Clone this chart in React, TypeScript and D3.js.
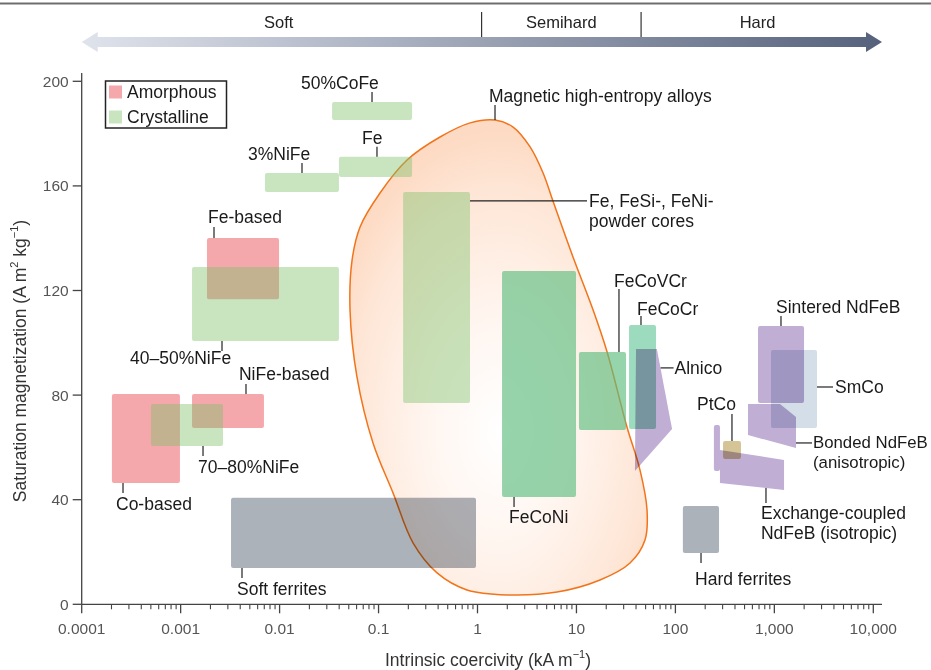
import React from "react";
import * as d3 from "d3";

const W = 931;
const H = 670;

// Axis ticks
const xTickValues = [1e-4, 1e-3, 1e-2, 1e-1, 1, 10, 100, 1000, 10000];
const xTickLabels = ["0.0001", "0.001", "0.01", "0.1", "1", "10", "100", "1,000", "10,000"];
const yTickValues = [0, 40, 80, 120, 160, 200];

// Rectangular ranges: coercivity (kA/m) and saturation magnetization (A m2/kg)
const rectNames = ["Fe-based", "Co-based", "NiFe-based", "50%CoFe", "Fe", "3%NiFe", "40–50%NiFe", "70–80%NiFe", "Powder cores", "Soft ferrites", "FeCoNi", "FeCoVCr", "FeCoCr", "Sintered NdFeB", "SmCo", "PtCo", "Hard ferrites", "Exchange-coupled strip"];
const rectGroup = ["amorphous", "amorphous", "amorphous", "crystalline", "crystalline", "crystalline", "crystalline", "crystalline", "crystalline", "ferrite", "hea", "hea", "hea2", "rare", "smco", "ptco", "ferrite", "rare"];
const rectHcMin = [0.001845, 0.000202, 0.001303, 0.0339, 0.0398, 0.00711, 0.001303, 0.000501, 0.177, 0.00323, 1.77, 10.6, 34, 684, 925, 303, 119, 245];
const rectHcMax = [0.00987, 0.000984, 0.00695, 0.218, 0.218, 0.0398, 0.0398, 0.00268, 0.84, 0.966, 9.9, 31.7, 63.7, 1995, 2698, 460, 276, 282];
const rectMsMin = [116.7, 46.4, 67.4, 185.2, 163.4, 157.7, 100.7, 60.5, 77, 13.9, 41, 66.7, 67, 77, 67.4, 55.6, 19.6, 51];
const rectMsMax = [140.1, 80.4, 80.4, 192.1, 171.1, 164.9, 129, 76.6, 157.7, 40.7, 127.5, 96.5, 106.8, 106.4, 97.2, 62.4, 37.6, 68.6];

// Polygonal ranges
const alnicoHc = [40, 65, 92.5, 39];
const alnicoMs = [97.6, 97.6, 67, 51];
const bondedHc = [542, 1140, 1655, 1655, 542];
const bondedMs = [76.6, 76.6, 71.6, 59.8, 64.7];
const exchangeHc = [282, 1253, 1253, 282];
const exchangeMs = [59, 55.2, 43.7, 46.4];

// Magnetic high-entropy alloys envelope
const blobHc = [1.503, 2.29, 3.4, 4.59, 5.79, 9.23, 14.7, 20.4, 32.4, 43.9, 51.7, 49.3, 34.8, 17.3, 6.36, 1.99, 0.783, 0.39, 0.223, 0.14, 0.0879, 0.0605, 0.0515, 0.054, 0.065, 0.1035, 0.194, 0.418, 0.843];
const blobMs = [185.2, 182.5, 174.9, 165, 154.2, 132.8, 112.6, 96.5, 67.8, 51.3, 36.0, 24.6, 15.8, 9.3, 4.7, 3.6, 5.5, 12.0, 23.5, 42.6, 61.7, 87.0, 112.5, 131.6, 144.3, 157.3, 169.9, 178.7, 184.1];

// Annotations: anchor in data units, leader end and text offsets in px
const annotations = [
  { lines: ["50%CoFe"], hc: 0.0859, ms: 192.1, lx: 0, ly: -10, tx: -71, ty: -19 },
  { lines: ["Fe"], hc: 0.0964, ms: 171.1, lx: 0, ly: -10, tx: -15, ty: -19 },
  { lines: ["3%NiFe"], hc: 0.01684, ms: 164.9, lx: 0, ly: -10, tx: -54, ty: -19 },
  { lines: ["Fe-based"], hc: 0.002173, ms: 140.1, lx: 0, ly: -11, tx: -6, ty: -21 },
  { lines: ["40–50%NiFe"], hc: 0.002618, ms: 100.7, lx: 0, ly: 10, tx: -92, ty: 17 },
  { lines: ["NiFe-based"], hc: 0.004575, ms: 80.4, lx: 0, ly: -10, tx: -7, ty: -20 },
  { lines: ["70–80%NiFe"], hc: 0.001683, ms: 60.5, lx: 0, ly: 10, tx: -5, ty: 21 },
  { lines: ["Co-based"], hc: 0.0002615, ms: 46.4, lx: 0, ly: 10, tx: -7, ty: 21 },
  { lines: ["Soft ferrites"], hc: 0.004169, ms: 13.9, lx: 0, ly: 10, tx: -5, ty: 21 },
  { lines: ["Fe, FeSi-, FeNi-", "powder cores"], hc: 0.84, ms: 154.3, lx: 117, ly: 0, tx: 119, ty: 0 },
  { lines: ["Magnetic high-entropy alloys"], hc: 1.503, ms: 185.2, lx: 0, ly: -15, tx: -6, ty: -24 },
  { lines: ["FeCoNi"], hc: 2.34, ms: 41, lx: 0, ly: 10, tx: -5, ty: 20 },
  { lines: ["FeCoVCr"], hc: 26.9, ms: 96.5, lx: 0, ly: -63, tx: -5, ty: -71 },
  { lines: ["FeCoCr"], hc: 44.9, ms: 106.8, lx: 0, ly: -9, tx: -4, ty: -16 },
  { lines: ["Alnico"], hc: 70.8, ms: 90.4, lx: 13, ly: 0, tx: 14, ty: 0 },
  { lines: ["PtCo"], hc: 373, ms: 62.4, lx: 0, ly: -27, tx: -35, ty: -37 },
  { lines: ["Sintered NdFeB"], hc: 1167, ms: 106.4, lx: 0, ly: -10, tx: -5, ty: -19 },
  { lines: ["SmCo"], hc: 2698, ms: 83.1, lx: 16, ly: 0, tx: 18, ty: 0 },
  { lines: ["Bonded NdFeB", "(anisotropic)"], hc: 1655, ms: 61.7, lx: 16, ly: 0, tx: 17, ty: 0, fs: 16.8 },
  { lines: ["Exchange-coupled", "NdFeB (isotropic)"], hc: 823, ms: 44.5, lx: 0, ly: 15, tx: -5, ty: 25 },
  { lines: ["Hard ferrites"], hc: 181.5, ms: 19.6, lx: 0, ly: 10, tx: -6, ty: 26 },
];

const legendLabels = ["Amorphous", "Crystalline"];
const scaleLabels = ["Soft", "Semihard", "Hard"];
const scaleBounds = [1.1, 45];

const FONT = "'Liberation Sans', Arial, sans-serif";

const groupStyle: Record<string, { fill: string; opacity?: number; blend?: string }> = {
  amorphous: { fill: "#ee6e74", opacity: 0.6 },
  crystalline: { fill: "#7cc06a", opacity: 0.42 },
  ferrite: { fill: "#acb2ba", blend: "multiply" },
  hea: { fill: "#5dbd7f", opacity: 0.65 },
  hea2: { fill: "#68c89d", opacity: 0.65 },
  rare: { fill: "#c0aed4", blend: "multiply" },
  smco: { fill: "#d3dee8", blend: "multiply" },
  ptco: { fill: "#d4c496", blend: "multiply" },
};

export default function App() {
  const x = d3.scaleLog().domain([1e-4, 1e4]).range([81.7, 873.3]);
  const y = d3.scaleLinear().domain([0, 200]).range([604.3, 81.3]);
  const xAxisEnd = 882;
  const yAxisTop = 73;

  const line = d3
    .line<[number, number]>()
    .x((d) => x(d[0]))
    .y((d) => y(d[1]));
  const blobPath = d3
    .line<[number, number]>()
    .x((d) => x(d[0]))
    .y((d) => y(d[1]))
    .curve(d3.curveCatmullRomClosed.alpha(0.5))(blobHc.map((h, i) => [h, blobMs[i]]));

  const minor: number[] = [];
  for (let e = -4; e < 4; e++) for (let k = 2; k <= 9; k++) minor.push(k * Math.pow(10, e));

  const rectEls = rectNames.map((n, i) => {
    const st = groupStyle[rectGroup[i]];
    return (
      <rect
        key={n}
        x={x(rectHcMin[i])}
        y={y(rectMsMax[i])}
        width={x(rectHcMax[i]) - x(rectHcMin[i])}
        height={y(rectMsMin[i]) - y(rectMsMax[i])}
        rx={2}
        fill={st.fill}
        fillOpacity={st.opacity ?? 1}
        style={st.blend ? { mixBlendMode: st.blend as any } : undefined}
      />
    );
  });

  const polyEl = (hc: number[], ms: number[], key: string) => (
    <path
      key={key}
      d={line(hc.map((h, i) => [h, ms[i]]) as [number, number][]) + "Z"}
      fill={groupStyle.rare.fill}
      style={{ mixBlendMode: "multiply" }}
    />
  );

  const order = (g: string[]) => rectEls.filter((_, i) => g.includes(rectGroup[i]));

  const arrowY = 42;
  const ax0 = x(1e-4);
  const ax1 = xAxisEnd;
  const arrowPts = [
    [ax0, arrowY],
    [ax0 + 16, arrowY - 10],
    [ax0 + 16, arrowY - 5],
    [ax1 - 16, arrowY - 5],
    [ax1 - 16, arrowY - 10],
    [ax1, arrowY],
    [ax1 - 16, arrowY + 10],
    [ax1 - 16, arrowY + 5],
    [ax0 + 16, arrowY + 5],
    [ax0 + 16, arrowY + 10],
  ];
  const labelXs = [x(0.0098), (x(scaleBounds[0]) + x(scaleBounds[1])) / 2, (x(scaleBounds[1]) + ax1) / 2 - 4];

  return (
    <svg
      width={W}
      height={H}
      style={{ position: "absolute", left: 0, top: 0, background: "#fff" }}
      fontFamily={FONT}
    >
      <defs>
        <linearGradient id="arrowGrad" x1="0" x2="1" y1="0" y2="0">
          <stop offset="0" stopColor="#dfe3ec" />
          <stop offset="1" stopColor="#56627c" />
        </linearGradient>
        <radialGradient id="blobGrad" cx="0.5" cy="0.64" r="0.62" fx="0.5" fy="0.66">
          <stop offset="0" stopColor="#ffffff" />
          <stop offset="0.4" stopColor="#fff5ef" />
          <stop offset="0.8" stopColor="#fee6d6" />
          <stop offset="1" stopColor="#fddac3" />
        </radialGradient>
      </defs>

      {/* top rule */}
      <line x1={0} x2={W} y1={3.5} y2={3.5} stroke="#6e6e6e" strokeWidth={2} />

      {/* soft / semihard / hard arrow */}
      <polygon points={arrowPts.map((p) => p.join(",")).join(" ")} fill="url(#arrowGrad)" />
      {scaleBounds.map((b) => (
        <line key={b} x1={x(b)} x2={x(b)} y1={12} y2={37} stroke="#333" strokeWidth={1.2} />
      ))}
      {scaleLabels.map((s, i) => (
        <text key={s} x={labelXs[i]} y={22} textAnchor="middle" dominantBaseline="central" fontSize={16.5} fill="#222">
          {s}
        </text>
      ))}

      {/* high-entropy alloys envelope */}
      <path d={blobPath || ""} fill="url(#blobGrad)" stroke="#f2741a" strokeWidth={1.5} />

      {/* material ranges */}
      {order(["amorphous"])}
      {order(["crystalline"])}
      {order(["ferrite", "hea", "hea2"])}
      {polyEl(alnicoHc, alnicoMs, "alnico")}
      {order(["rare"])}
      {polyEl(bondedHc, bondedMs, "bonded")}
      {polyEl(exchangeHc, exchangeMs, "exchange")}
      {order(["ptco"])}
      {order(["smco"])}

      {/* axes */}
      <g stroke="#444" strokeWidth={1.3}>
        <line x1={x(1e-4)} x2={x(1e-4)} y1={yAxisTop} y2={y(0)} />
        <line x1={x(1e-4)} x2={xAxisEnd} y1={y(0)} y2={y(0)} />
        {yTickValues.map((v) => (
          <line key={v} x1={x(1e-4) - 9} x2={x(1e-4)} y1={y(v)} y2={y(v)} />
        ))}
        {xTickValues.map((v) => (
          <line key={v} x1={x(v)} x2={x(v)} y1={y(0)} y2={y(0) + 9} />
        ))}
        {minor.map((v) => (
          <line key={"m" + v} x1={x(v)} x2={x(v)} y1={y(0)} y2={y(0) + 5} strokeWidth={1.1} />
        ))}
      </g>
      {yTickValues.map((v) => (
        <text key={v} x={x(1e-4) - 13} y={y(v)} textAnchor="end" dominantBaseline="central" fontSize={15.5} fill="#555">
          {v}
        </text>
      ))}
      {xTickValues.map((v, i) => (
        <text key={v} x={x(v)} y={628} textAnchor="middle" dominantBaseline="central" fontSize={15.5} fill="#555">
          {xTickLabels[i]}
        </text>
      ))}
      <text x={488} y={660} textAnchor="middle" dominantBaseline="central" fontSize={17.5} fill="#333">
        Intrinsic coercivity (kA m
        <tspan dy={-6} fontSize={11}>−1</tspan>
        <tspan dy={6}>)</tspan>
      </text>
      <text
        transform={`translate(20,${361}) rotate(-90)`}
        textAnchor="middle"
        dominantBaseline="central"
        fontSize={17.5}
        fill="#333"
      >
        Saturation magnetization (A m
        <tspan dy={-6} fontSize={11}>2</tspan>
        <tspan dy={6}> kg</tspan>
        <tspan dy={-6} fontSize={11}>−1</tspan>
        <tspan dy={6}>)</tspan>
      </text>

      {/* legend */}
      <rect x={105.5} y={81} width={121} height={47} fill="#fff" stroke="#222" strokeWidth={1.5} />
      {legendLabels.map((l, i) => (
        <g key={l}>
          <rect
            x={109}
            y={85.5 + i * 25}
            width={13}
            height={13}
            fill={i === 0 ? groupStyle.amorphous.fill : groupStyle.crystalline.fill}
            fillOpacity={i === 0 ? groupStyle.amorphous.opacity : groupStyle.crystalline.opacity}
          />
          <text x={127} y={92 + i * 24.5} dominantBaseline="central" fontSize={17.5} fill="#1a1a1a">
            {l}
          </text>
        </g>
      ))}

      {/* annotations */}
      {annotations.map((a) => {
        const px = x(a.hc);
        const py = y(a.ms);
        return (
          <g key={a.lines[0]}>
            <line x1={px} y1={py} x2={px + a.lx} y2={py + a.ly} stroke="#222" strokeWidth={1.2} />
            {a.lines.map((t, j) => (
              <text
                key={t}
                x={px + a.tx}
                y={py + a.ty + j * 20}
                dominantBaseline="central"
                fontSize={(a as any).fs ?? 17.5}
                fill="#1a1a1a"
              >
                {t}
              </text>
            ))}
          </g>
        );
      })}
    </svg>
  );
}
